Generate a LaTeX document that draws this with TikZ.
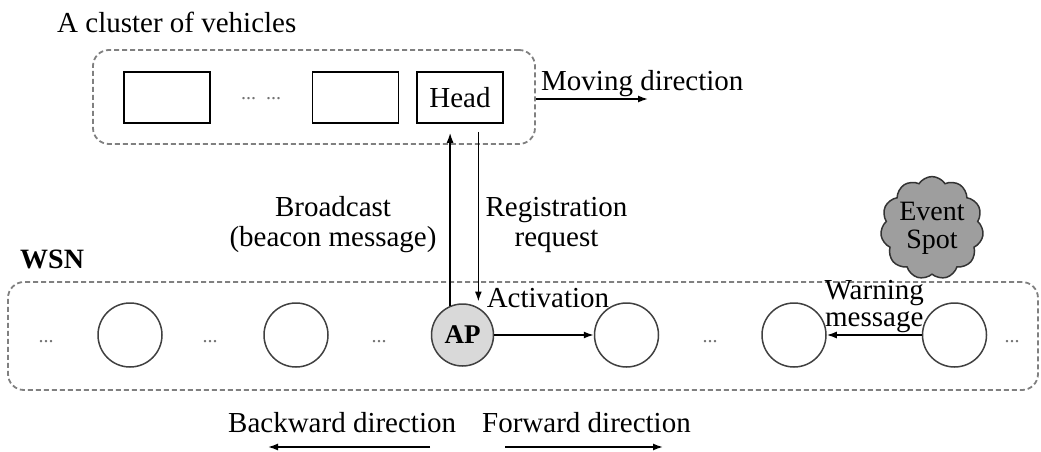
\documentclass[tikz,border=0pt]{standalone}
\usepackage{fontspec}
\setmainfont{Liberation Serif}
\usetikzlibrary{arrows.meta,shapes.symbols,calc}
\begin{document}
\begin{tikzpicture}[x=1pt,y=-1pt,
  txt/.style={font=\fontsize{29}{30}\selectfont, inner sep=0pt},
  veh/.style={draw, line width=1.6pt, minimum width=86pt, minimum height=51pt, inner sep=0pt},
  grp/.style={draw=black!50, line width=1.8pt, dash pattern=on 5pt off 3pt, rounded corners=16pt, inner sep=0pt},
  sensor/.style={circle, draw=black!75, line width=1.5pt, minimum size=64pt, inner sep=0pt},
  dots/.style={font=\fontsize{20}{20}\selectfont, text=black!55, inner sep=0pt},
  arr/.style={-{Latex[length=10pt,width=7pt]}, line width=1.5pt}]
\fill[white] (0,0) rectangle (1041,452);
\useasboundingbox (0,0) rectangle (1041,452);

% cluster of vehicles
\node[txt, anchor=base west] (title) at (57,33) {A cluster of vehicles};
\node[grp, minimum width=442pt, minimum height=94pt] (cluster) at (314,97) {};
\node[veh] (v1) at (167,97.5) {};
\node[dots] (vdots) at (261,99) {...~~...};
\node[veh] (v2) at (355.5,97.5) {};
\node[veh, txt, minimum width=86pt, minimum height=51pt] (head) at (460,97.5) {Head};

\coordinate (mvend) at (648,99);
\draw[arr] (cluster.east |- mvend) -- (mvend);
\node[txt, anchor=base west] (mv) at (541,90) {Moving direction};

% texts between
\node[txt, align=center, anchor=south] (bc) at (333,253) {Broadcast\\(beacon message)};
\node[txt, align=center, anchor=south] (reg) at (556.5,253) {Registration\\request};
\node[txt, font=\fontsize{28}{30}\selectfont\bfseries, anchor=base west] (wsn) at (20,268) {WSN};

% WSN
\node[grp, minimum width=1030pt, minimum height=108pt] (wsnbox) at (523,336) {};
\node[dots] (d1) at (46,342) {...};
\node[sensor] (c1) at (130,335) {};
\node[dots] (d2) at (210,342) {...};
\node[sensor] (c2) at (296,335) {};
\node[dots] (d3) at (379,342) {...};
\node[sensor, fill=black!15, minimum size=62pt, font=\fontsize{27}{28}\selectfont\bfseries] (ap) at (462.5,335) {AP};
\node[sensor] (c4) at (626.5,335) {};
\node[dots] (d4) at (710,342) {...};
\node[sensor] (c5) at (794,335) {};
\node[sensor] (c6) at (954.5,335) {};
\node[dots] (d5) at (1012,342) {...};

\node[cloud, cloud puffs=11, cloud puff arc=115, aspect=1, draw=black!80, fill=black!38,
      line width=1.5pt, minimum width=90pt, minimum height=91pt, inner sep=0pt,
      align=center, font=\fontsize{28}{28}\selectfont] (ev) at (932,228) {Event\\Spot};

% connectors
\draw[arr, shorten >=9pt] (ap.113) -- (ap.113 |- head.south);
\draw[arr, shorten <=8pt, shorten >=6pt] (head.south -| ap.60) -- (ap.60);
\draw[arr] (ap) -- (c4) node[midway, txt, anchor=base, xshift=4pt, yshift=28pt] {Activation};
\draw[arr] (c6) -- (c5) node[midway, txt, font=\fontsize{29}{27}\selectfont, align=center, anchor=south, yshift=1pt] {Warning\\message};

% directions
\node[txt, anchor=base west] (bw) at (228,432) {Backward direction};
\node[txt, anchor=base west] (fw) at (482,432) {Forward direction};
\coordinate (bws) at (430,447);
\coordinate (bwe) at (268,447);
\coordinate (fws) at (505,447);
\coordinate (fwe) at (663,447);
\draw[arr] (bws) -- (bwe);
\draw[arr] (fws) -- (fwe);
\end{tikzpicture}
\end{document}
